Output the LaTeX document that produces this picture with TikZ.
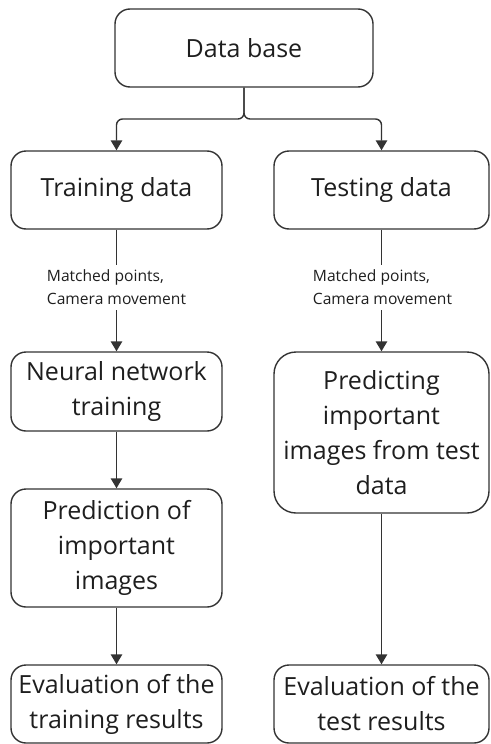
\documentclass[tikz,border=0pt]{standalone}
\usepackage{fontspec}
\setmainfont{Open Sans}
\usetikzlibrary{arrows.meta}
\definecolor{linecol}{HTML}{333333}
\definecolor{textcol}{HTML}{1E1E1E}
\begin{document}
\begin{tikzpicture}[x=1pt,y=-1pt,
  box/.style={draw=linecol, line width=1.4pt, rounded corners=15pt,
    text=textcol, align=center, inner sep=0pt,
    font=\fontsize{25}{35}\selectfont},
  lbl/.style={text=textcol, align=left, inner sep=0pt, minimum height=45pt,
    font=\fontsize{15.6}{23}\selectfont},
  conn/.style={draw=linecol, line width=1.4pt},
  arr/.style={conn, -{Triangle[width=11.5pt,length=10pt]}}]
\useasboundingbox (0,0) rectangle (490,744);

% top source
\node[box, minimum width=258pt, minimum height=78pt] (db) at (244,48) {Data base};

% two branches
\node[box, minimum width=211pt, minimum height=78pt] (train) at (116.5,190) {Training data};
\node[box, minimum width=215pt, minimum height=78pt] (test) at (381.5,190) {Testing data};

% feature labels on the vertical links
\node[lbl] (lab1) at (116.5,287.5) {Matched points,\\Camera movement};
\node[lbl] (lab2) at (382.5,287.5) {Matched points,\\Camera movement};

% training column
\node[box, minimum width=211pt, minimum height=79pt] (nn) at (116.5,391.5) {Neural network\\training};
\node[box, minimum width=211pt, minimum height=118pt] (pred) at (116.5,548) {Prediction of\\important\\images};
\node[box, minimum width=211pt, minimum height=78pt] (evtrain) at (116.5,704) {Evaluation of the\\training results};

% testing column
\node[box, rounded corners=22pt, minimum width=215pt, minimum height=161pt] (predtest) at (381.5,432.5) {Predicting\\important\\images from test\\data};
\node[box, minimum width=215pt, minimum height=78pt] (evtest) at (381.5,704) {Evaluation of the\\test results};

% split below the data base
\coordinate (split) at (244,119);
\draw[arr, rounded corners=6pt] (db.south) -- (split) -| (train.north);
\draw[arr, rounded corners=6pt] (db.south) -- (split) -| (test.north);

% left column links
\draw[conn] (train) -- (lab1);
\draw[arr] (lab1) -- (nn);
\draw[arr] (nn) -- (pred);
\draw[arr] (pred) -- (evtrain);

% right column links
\draw[conn] (test.south) -- (test.south |- lab2.north);
\draw[arr] (test.south |- lab2.south) -- (predtest.north);
\draw[arr] (predtest) -- (evtest);
\end{tikzpicture}
\end{document}
